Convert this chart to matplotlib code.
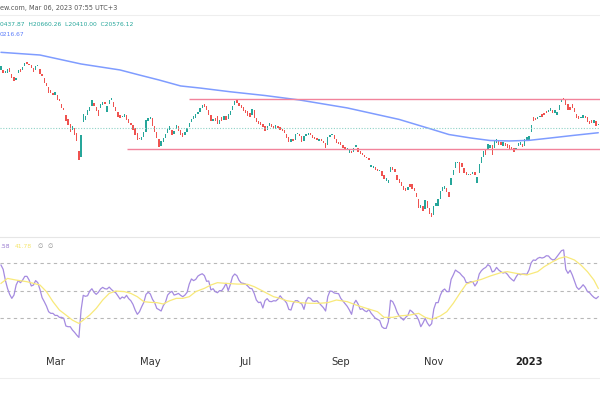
import numpy as np
import pandas as pd
import matplotlib
matplotlib.use("Agg")
import matplotlib.pyplot as plt
from matplotlib.transforms import blended_transform_factory

# ---------------- data ----------------
start_date = "2022-01-25"

opens = [24460,24460,24260,24260,24590,24190,23990,23790,24260,24520,
         24460,24720,24990,24860,24790,24590,24460,24720,24520,24190,
         23920,23590,23320,23120,22920,22780,22780,22520,22180,21920,
         21450,21180,20840,20440,20580,20240,19040,18640,20980,21110,
         21450,21710,22050,22250,21980,21780,21920,22120,22320,21650,
         22180,22450,22320,21980,21650,21450,21310,21310,21450,21180,
         20910,20780,20580,20240,19910,19770,19980,20310,21050,21180,
         21250,20710,20310,19840,19370,19640,19910,20240,20440,20440,
         20180,20510,20710,20440,20240,20110,20310,20640,20980,21180,
         21250,21510,21650,21920,22180,22050,21780,21450,21050,21250,
         21380,20840,21310,21110,21380,21180,21450,21780,22120,22450,
         22250,22120,21980,21780,21710,21580,21450,21780,21250,21050,
         20980,20840,20710,20440,20710,20840,20710,20510,20710,20640,
         20510,20440,20180,19980,19640,19840,19770,20180,20180,20040,
         19710,20040,20110,20240,20110,19980,19910,19710,19840,19710,
         19570,19440,19980,20110,20110,19840,19640,19640,19440,19310,
         19170,18900,19040,18970,19310,19240,19040,18900,18770,18640,
         18570,17970,17900,17970,17830,17700,17700,17430,17030,16900,
         17630,17970,17830,17430,17170,16960,16700,16560,16430,16830,
         16830,16560,16230,15830,15230,15360,15160,15690,15230,14890,
         14760,15360,15360,15830,16360,16500,16560,16300,16760,17430,
         17900,18240,18300,18240,17900,17630,17430,17500,17500,17630,
         16900,17570,18240,18640,19110,19110,19240,19440,19240,19570,
         19710,19640,19370,19570,19510,19440,19310,19240,19110,19370,
         19440,19510,19370,19710,19770,20310,21310,21250,21180,21310,
         21510,21580,21710,21650,21710,21780,21580,21450,21780,22320,
         22580,22450,22180,21980,22180,21920,21510,21380,21250,21250,
         21380,21310,21050,21110,20910,21050,20780]

closes = [24720,24260,24390,24520,24320,23920,23720,23920,24460,24320,
          24660,24930,24860,24790,24590,24320,24720,24790,24190,24060,
          23590,23390,22920,22920,22780,22990,22450,22380,21920,21780,
          21050,20780,20310,20710,20110,19710,18440,20110,21510,21380,
          21780,21980,22450,22050,21710,21380,22180,22320,22180,22050,
          22450,22580,21980,21710,21310,21250,21380,21510,21110,20910,
          20780,20440,20110,19770,19840,19980,20310,21110,21250,21310,
          20710,20310,19910,19310,19710,19910,20180,20510,20710,20110,
          20380,20780,20380,20110,19980,20310,20580,20910,21180,21380,
          21510,21650,21920,22120,21980,21780,21450,21050,21180,21050,
          20840,21110,21050,21380,21110,21510,21710,22050,22380,22250,
          22050,21920,21710,21580,21380,21310,21850,21250,20980,20840,
          20780,20640,20380,20710,20910,20640,20510,20780,20580,20440,
          20380,20240,19910,19640,19840,19710,20180,20240,20040,19640,
          20040,20180,20240,20110,19910,19840,19770,19840,19710,19570,
          19240,19980,20110,20180,19840,19570,19510,19440,19240,19170,
          19240,19110,18900,19240,19440,18970,18840,18770,18640,18570,
          18440,18100,18040,17770,17700,17770,17370,17170,17230,17100,
          17970,17770,17630,17100,16900,16700,16430,16360,16630,16630,
          16500,16360,15960,15230,15430,15020,15760,15230,14820,14620,
          15360,15560,15830,16360,16630,16700,16300,15960,17230,17770,
          18300,18300,17570,17970,17570,17430,17500,17430,17630,17430,
          17300,18170,18640,19040,18770,19510,19440,18770,19710,19840,
          19440,19440,19640,19370,19240,19170,19110,18970,19240,19570,
          19640,19310,19840,19980,20040,20780,21050,21110,21310,21380,
          21310,21450,21580,21780,21920,21580,21780,21650,22120,22520,
          22450,22120,21780,21780,21920,21650,21250,21180,21310,21450,
          21250,20980,20840,20910,21110,20710,20840]

ma200_day = [0, 18, 37, 55, 64, 73, 83, 92, 106, 122, 138, 160, 184, 198,
             207, 217, 226, 235, 244, 254, 265, 276]
ma200_val = [25640, 25460, 24860, 24460, 24120, 23790, 23390, 23250, 23000,
             22750, 22450, 21920, 21150, 20540, 20140, 19910, 19740, 19710,
             19750, 19910, 20090, 20260]

rsi = [68.5,65.4,57.6,51.6,47.2,44.3,46.7,54.0,57.2,55.7,
       57.6,60.3,60.3,57.6,53.3,54.0,57.2,55.7,50.8,44.8,
       41.9,38.7,34.6,33.4,33.4,31.9,31.9,30.5,30.5,29.8,
       24.2,23.7,23.7,21.3,19.6,17.6,15.9,35.8,46.5,45.8,
       46.2,49.6,51.3,48.7,47.2,48.7,51.1,52.3,51.3,51.1,
       52.5,50.8,49.4,48.4,46.2,43.8,45.3,44.5,46.5,44.1,
       42.6,39.9,35.8,32.7,34.6,38.2,41.4,47.2,48.7,47.5,
       43.6,41.2,37.0,36.1,35.1,39.0,41.4,46.7,48.4,49.4,
       46.7,47.2,47.9,46.5,45.5,46.7,48.7,54.7,58.4,57.2,
       58.1,60.5,61.5,62.2,60.8,56.7,56.9,50.4,51.3,49.2,
       48.4,49.9,49.9,52.1,55.2,49.9,54.5,60.1,62.0,60.8,
       57.4,55.5,55.2,54.7,53.3,51.6,51.3,47.9,43.1,41.2,
       41.6,37.3,42.6,44.1,42.1,41.9,42.6,42.4,43.8,46.2,
       44.1,42.9,40.9,36.3,35.8,40.7,42.6,42.6,41.2,40.2,
       36.3,42.6,45.0,44.3,42.4,42.1,42.6,40.9,39.2,37.5,
       35.1,45.5,49.6,49.4,48.2,47.9,47.7,44.3,42.4,40.4,
       38.5,35.8,32.7,40.2,42.9,40.2,36.3,36.8,35.3,34.6,
       36.3,33.6,31.7,29.8,29.0,28.1,23.7,22.5,22.5,27.3,
       42.9,41.9,38.7,34.4,31.5,30.0,28.5,30.5,31.9,35.8,
       34.6,32.9,31.5,28.5,23.7,26.4,29.8,26.4,24.2,25.9,
       36.5,41.2,41.2,46.5,49.9,51.1,49.2,49.2,58.1,61.3,
       64.9,63.7,62.7,60.8,59.3,55.7,55.7,56.4,56.4,53.3,
       55.7,62.0,64.4,65.9,66.8,68.8,67.6,63.5,64.2,66.8,
       64.9,63.7,62.7,63.2,61.8,59.6,58.1,56.9,59.8,62.2,
       61.5,62.0,62.0,61.8,64.9,70.2,72.2,71.9,73.4,74.1,
       73.6,74.1,75.3,75.1,73.2,72.2,72.7,74.8,76.8,79.0,
       79.5,65.4,62.5,64.7,61.3,56.9,52.5,50.8,52.3,54.2,
       52.3,49.2,48.4,46.5,45.0,44.1,45.5]

rsi_ma_day = [0,3,7,12,15,18,21,24,27,30,33,36,38,41,44,47,50,53,57,60,
              63,66,69,72,75,78,81,84,87,90,94,97,100,104,109,114,117,120,123,126,
              129,132,135,138,143,147,151,155,160,164,169,174,177,181,184,189,193,196,199,203,
              206,209,212,215,218,222,226,231,234,238,243,248,251,255,258,261,265,268,271,274,
              276]
rsi_ma_val = [55.2,58.8,57.6,56.4,55.2,54.0,49.2,41.9,35.8,32.2,28.5,26.1,28.5,32.2,37.0,43.1,47.9,49.6,49.2,47.9,
              45.5,41.9,41.4,41.2,40.2,42.6,44.3,44.3,45.5,49.2,51.6,54.0,55.7,55.2,54.7,54.5,52.8,50.4,47.9,45.5,
              44.3,42.6,41.9,41.2,40.7,40.7,41.2,43.1,41.9,39.5,37.0,34.6,30.5,30.5,31.5,32.2,33.4,30.5,29.0,31.5,
              34.6,40.7,47.9,54.7,56.4,58.1,60.5,63.0,63.7,62.5,61.3,63.7,67.3,71.0,73.4,74.6,72.2,68.5,63.7,57.6,
              51.6]

last_close = 20576.12
upper_level = 22500
lower_level = 19150
upper_level_start = 87
lower_level_start = 58
rsi_levels = [70, 50, 30]

month_targets = [(2022, 3), (2022, 5), (2022, 7), (2022, 9), (2022, 11), (2023, 1)]
month_labels = ["Mar", "May", "Jul", "Sep", "Nov", "2023"]

header_line1 = "ew.com, Mar 06, 2023 07:55 UTC+3"
ohlc_text = "0437.87  H20660.26  L20410.00  C20576.12"
ma_label = "0216.67"
rsi_label_parts = [(".58", "#9575cd"), ("41.78", "#f5e56b"), ("\u2205", "#888888"), ("\u2205", "#888888")]

# ---------------- figure ----------------
W, H = 600, 395
fig = plt.figure(figsize=(W / 100, H / 100), dpi=100)
fig.patch.set_facecolor("white")

def fx(px):
    return px / W

def fy(py):
    return 1 - py / H

n = len(closes)
idx = np.arange(n)
o = np.array(opens, float)
c = np.array(closes, float)
dates = pd.bdate_range(start_date, periods=n)

xlim = (-0.46, n - 0.2)

# main pane
ax = fig.add_axes([0, fy(237), 1, 237 / H])
ax.set_xlim(*xlim)
ax.set_ylim(13285, 29140)
ax.axis("off")

up = c >= o
colors = np.where(up, "#26a69a", "#ef5350")
heights = np.maximum(np.abs(c - o), 40)
bottoms = np.minimum(o, c)
ax.bar(idx, heights, bottom=bottoms, width=0.62, color=colors, linewidth=0)

ax.plot(ma200_day, ma200_val, color="#7f9cff", lw=1.1, solid_capstyle="round")
ax.axhline(last_close, color="#8fd3c7", lw=0.8, ls=(0, (1, 1.5)))
ax.hlines(upper_level, upper_level_start, xlim[1], color="#f2839b", lw=1.0)
ax.hlines(lower_level, lower_level_start, xlim[1], color="#f2839b", lw=1.0)

# rsi pane
ax2 = fig.add_axes([0, fy(345), 1, 108 / H])
ax2.set_xlim(*xlim)
ax2.set_ylim(10.4, 88.9)
ax2.axis("off")
for lv in rsi_levels:
    ax2.axhline(lv, color="#b8b8b8", lw=0.8, ls=(0, (3, 3)))
ax2.plot(idx, rsi, color="#a58be0", lw=0.9)
ax2.plot(rsi_ma_day, rsi_ma_val, color="#f8e97a", lw=0.9)

# separators
fig.add_artist(plt.Line2D([0, 1], [fy(15), fy(15)], color="#eeeeee", lw=0.8, transform=fig.transFigure))
fig.add_artist(plt.Line2D([0, 1], [fy(237), fy(237)], color="#e6e6e6", lw=0.8, transform=fig.transFigure))
fig.add_artist(plt.Line2D([0, 1], [fy(378), fy(378)], color="#eeeeee", lw=0.8, transform=fig.transFigure))

# header texts
fig.text(fx(0), fy(8), header_line1, fontsize=4.7, color="#555555", va="center", ha="left")
fig.text(fx(0), fy(25), ohlc_text, fontsize=4.3, color="#26a69a", va="center", ha="left")
fig.text(fx(0), fy(34), ma_label, fontsize=4.3, color="#5b7cfa", va="center", ha="left")
rx = [0, 15, 38, 47]
for xp, (t, col) in zip(rx, rsi_label_parts):
    fig.text(fx(xp), fy(247), t, fontsize=4.3, color=col, va="center", ha="left")

# month labels
trans = blended_transform_factory(ax2.transData, fig.transFigure)
for (yr, mo), lab in zip(month_targets, month_labels):
    pos = np.where((dates.year == yr) & (dates.month == mo))[0]
    if len(pos) == 0:
        continue
    ax2.text(pos[0], fy(362), lab, transform=trans, ha="center", va="center",
             fontsize=7.2, color="#333333" if lab != "2023" else "#222222",
             fontweight="bold" if lab == "2023" else "normal", clip_on=False)

fig.savefig("out.png", dpi=100)
